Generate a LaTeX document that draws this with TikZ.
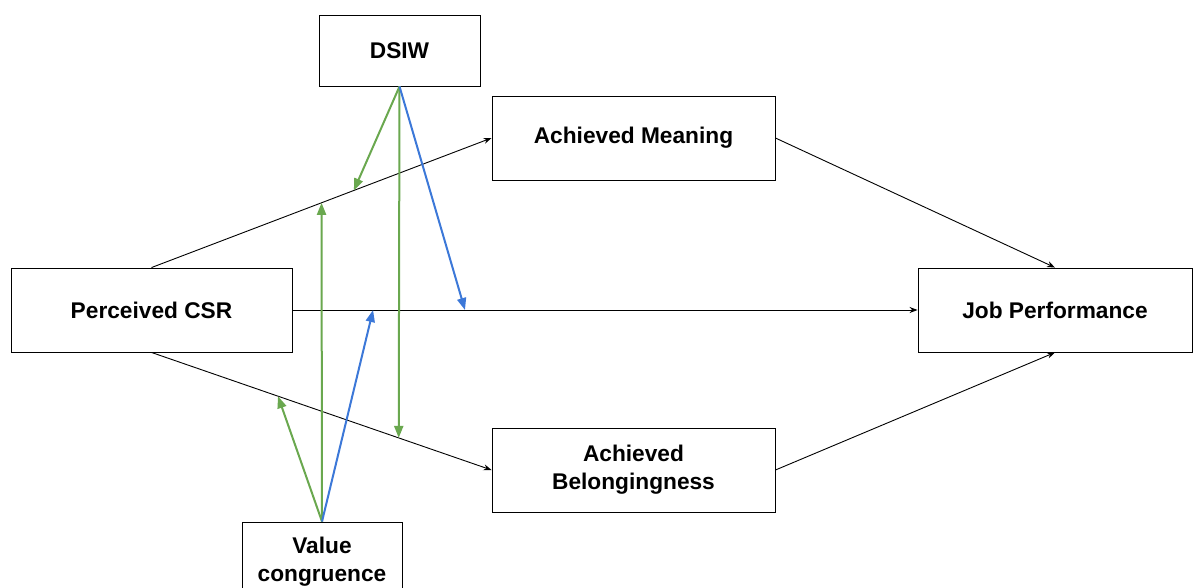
\documentclass[tikz,border=0pt]{standalone}
\usepackage{fontspec}
\setmainfont{Liberation Sans}
\usepackage{xcolor}
\usetikzlibrary{arrows.meta}
\definecolor{modgreen}{RGB}{106,168,79}
\definecolor{modblue}{RGB}{60,120,216}

\begin{document}
\begin{tikzpicture}[x=1pt, y=-1pt,
    every node/.style={font=\fontsize{22.7}{28}\selectfont\bfseries},
    box/.style={draw, line width=0.9pt, inner sep=0pt, align=center},
    link/.style={line width=0.9pt, -{Stealth[length=8pt,width=6pt]}},
    modg/.style={modgreen, line width=2pt, -{Triangle[length=12pt,width=9pt]}},
    modb/.style={modblue, line width=2pt, -{Triangle[length=12pt,width=9pt]}}]
  \useasboundingbox (0,0) rectangle (1194,587);
  \clip (0,0) rectangle (1194,587);
  % boxes
  \node[box, minimum width=161pt, minimum height=71pt] (dsiw) at (399.5,50.5) {DSIW};
  \node[box, minimum width=283pt, minimum height=84pt] (meaning) at (633.5,138) {Achieved Meaning};
  \node[box, minimum width=281pt, minimum height=84pt] (csr) at (151.5,310) {Perceived CSR};
  \node[box, minimum width=274pt, minimum height=84pt] (jp) at (1055,310) {Job Performance};
  \node[box, minimum width=283pt, minimum height=84pt] (belong) at (633.5,470) {Achieved\\Belongingness};
  \node[box, minimum width=160pt, minimum height=80pt] (value) at (322,562) {Value\\congruence};
  % main paths
  \draw[link] (csr.north) -- (meaning.west)
    coordinate[pos=0.5] (m1) coordinate[pos=0.595] (m2);
  \draw[link] (csr.east) -- (jp.west)
    coordinate[pos=0.129] (d1) coordinate[pos=0.276] (d2);
  \draw[link] (csr.south) -- (belong.west)
    coordinate[pos=0.372] (b1) coordinate[pos=0.727] (b2);
  \draw[link] (meaning.east) -- (jp.north);
  \draw[link] (belong.east) -- (jp.south);
  % moderators
  \draw[modg] (dsiw.south) -- (m2);
  \draw[modg] (dsiw.south) -- (b2);
  \draw[modb] (dsiw.south) -- (d2);
  \draw[modg] (value.north) -- (b1);
  \draw[modg] (value.north) -- (m1);
  \draw[modb] (value.north) -- (d1);
\end{tikzpicture}
\end{document}
